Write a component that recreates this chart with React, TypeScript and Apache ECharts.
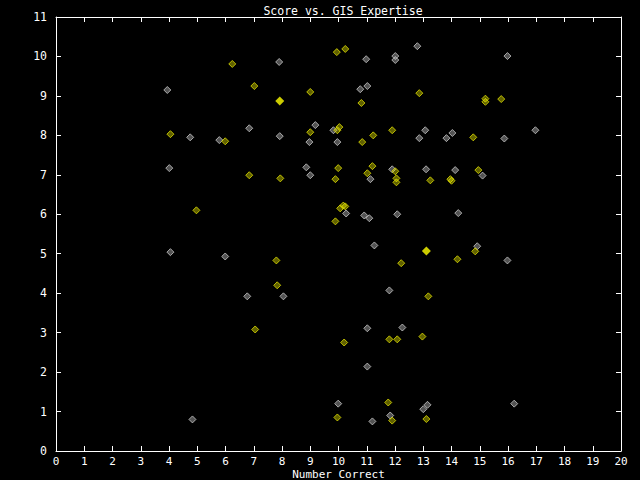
import React, { useEffect, useRef } from "react";
import * as echarts from "echarts";

const title = "Score vs. GIS Expertise";
const xName = "Number Correct";

const grayCorrect = [3.94, 4.75, 4.01, 4.05, 5.78, 5.99, 4.83, 6.84, 6.77, 7.9, 7.92, 8.05, 8.86, 9.0, 9.18, 8.97, 9.82, 9.96, 10.27, 10.77, 10.98, 11.02, 10.91, 11.09, 11.27, 11.02, 11.02, 11.2, 9.99, 11.8, 11.83, 12.01, 12.01, 11.9, 11.13, 12.08, 12.26, 12.79, 12.86, 13.07, 13.1, 13.15, 13.0, 13.82, 14.03, 14.13, 14.24, 14.91, 15.1, 15.87, 15.98, 15.98, 16.22, 16.97];
const grayScore = [9.15, 7.95, 7.17, 5.04, 7.88, 4.93, 0.8, 8.18, 3.92, 9.86, 7.98, 3.92, 7.19, 6.99, 8.26, 7.83, 8.13, 7.83, 6.02, 9.17, 9.93, 9.25, 5.97, 5.9, 5.21, 3.11, 2.14, 0.75, 1.2, 4.07, 0.9, 10.01, 9.91, 7.14, 6.89, 6.0, 3.13, 10.26, 7.93, 8.13, 7.14, 1.17, 1.06, 7.93, 8.06, 7.12, 6.03, 5.19, 6.98, 7.92, 10.01, 4.83, 1.2, 8.13];

const yellowCorrect = [4.05, 4.97, 6.24, 5.99, 6.84, 7.02, 7.05, 7.8, 7.83, 7.94, 9.0, 9.0, 9.94, 10.24, 9.96, 10.03, 9.89, 9.99, 10.06, 10.17, 10.24, 9.89, 10.2, 9.96, 10.81, 10.84, 11.02, 11.2, 11.23, 11.9, 11.8, 12.08, 11.76, 11.9, 12.01, 12.05, 12.05, 12.22, 12.86, 12.97, 13.11, 13.18, 13.25, 13.96, 14.0, 14.21, 14.77, 14.84, 14.95, 15.2, 15.2, 15.76];
const yellowScore = [8.03, 6.1, 9.81, 7.85, 6.99, 9.25, 3.08, 4.83, 4.2, 6.91, 9.1, 8.08, 10.11, 10.19, 8.13, 8.21, 6.89, 7.17, 6.15, 6.22, 6.2, 5.82, 2.75, 0.85, 8.82, 7.83, 7.04, 7.22, 8.0, 8.13, 2.83, 2.83, 1.23, 0.77, 7.09, 6.91, 6.81, 4.76, 9.07, 2.9, 0.81, 3.92, 6.86, 6.89, 6.85, 4.86, 7.95, 5.06, 7.12, 8.93, 8.85, 8.92];

const solidCorrect = [7.92, 13.11];
const solidScore = [8.87, 5.07];

const pairs = (xs: number[], ys: number[]) => xs.map((x, i) => [x, ys[i]]);

const FONT = "DejaVu Sans Mono";

export default function App() {
  const ref = useRef<HTMLDivElement>(null);
  useEffect(() => {
    if (!ref.current) return;
    const chart = echarts.init(ref.current, null, { renderer: "svg" });
    const axisCommon = {
      type: "value" as const,
      axisLine: { show: true, onZero: false, lineStyle: { color: "#fff", width: 1 } },
      axisTick: { show: true, inside: true, length: 5, lineStyle: { color: "#fff" } },
      splitLine: { show: false },
    };
    chart.setOption({
      animation: false,
      backgroundColor: "#000",
      title: {
        text: title,
        left: 338,
        top: 0,
        textAlign: "center",
        textStyle: { color: "#fff", fontFamily: FONT, fontSize: 11.5, fontWeight: "normal" },
      },
      grid: { left: 56, right: 19, top: 17, bottom: 29, containLabel: false, outerBoundsMode: "none" },
      xAxis: [
        {
          ...axisCommon,
          position: "bottom",
          min: 0,
          max: 20,
          interval: 1,
          name: xName,
          nameLocation: "middle",
          nameGap: 17,
          nameMoveOverlap: false,
          nameTextStyle: { color: "#fff", fontFamily: FONT, fontSize: 11, lineHeight: 12 },
          axisLabel: { color: "#fff", fontFamily: FONT, fontSize: 11, margin: 4, lineHeight: 12 },
        },
        {
          ...axisCommon,
          position: "top",
          min: 0,
          max: 20,
          interval: 1,
          axisLabel: { show: false },
        },
      ],
      yAxis: [
        {
          ...axisCommon,
          position: "left",
          min: 0,
          max: 11,
          interval: 1,
          axisLabel: { color: "#fff", fontFamily: FONT, fontSize: 11.5, margin: 9 },
        },
        {
          ...axisCommon,
          position: "right",
          min: 0,
          max: 11,
          interval: 1,
          axisLabel: { show: false },
        },
      ],
      series: [
        {
          type: "scatter",
          data: pairs(grayCorrect, grayScore),
          symbol: "diamond",
          symbolSize: 7,
          itemStyle: { color: "rgba(190,190,190,0.55)", borderColor: "#c8c8c8", borderWidth: 1 },
        },
        {
          type: "scatter",
          data: pairs(yellowCorrect, yellowScore),
          symbol: "diamond",
          symbolSize: 7,
          itemStyle: { color: "rgba(220,220,0,0.55)", borderColor: "#e0e000", borderWidth: 1 },
        },
        {
          type: "scatter",
          data: pairs(solidCorrect, solidScore),
          symbol: "diamond",
          symbolSize: 9,
          itemStyle: { color: "#ffff00" },
        },
      ],
    });
    return () => chart.dispose();
  }, []);
  return (
    <div
      ref={ref}
      style={{ position: "fixed", left: 0, top: 0, width: 640, height: 480 }}
    />
  );
}
